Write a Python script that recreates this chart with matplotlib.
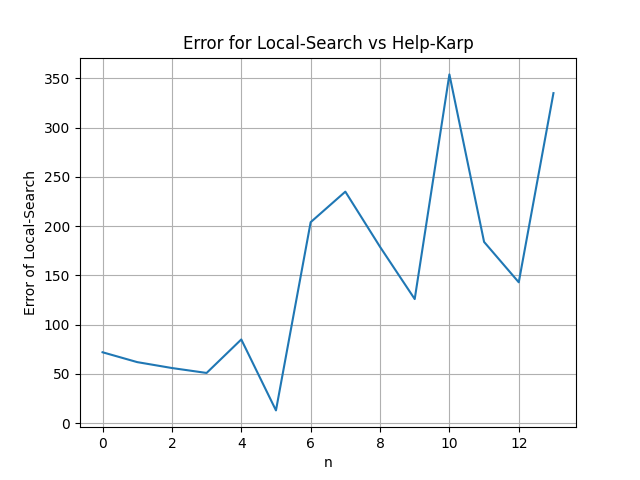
import matplotlib
matplotlib.use("Agg")
import matplotlib.pyplot as plt

n = list(range(14))
error = [72, 62, 56, 51, 85, 13, 204, 235, 179, 126, 354, 184, 143, 335]

fig = plt.figure(figsize=(6.4, 4.8), dpi=100)
plt.plot(n, error)
plt.xlabel("n")
plt.ylabel("Error of Local-Search")
plt.title("Error for Local-Search vs Help-Karp")
plt.grid(True)
plt.savefig("out.png")
